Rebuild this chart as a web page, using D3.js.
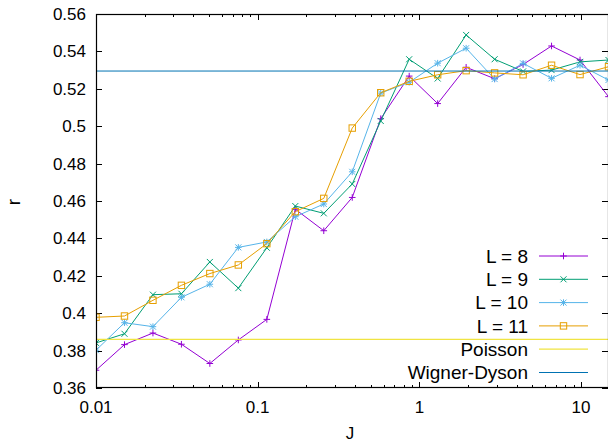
<!DOCTYPE html>
<html><head><meta charset="utf-8">
<script src="https://cdn.jsdelivr.net/npm/d3@7"></script>
<style>body{margin:0;background:#fff}svg{display:block}text{font-family:"Liberation Sans",Arial,sans-serif}</style>
</head><body>
<svg id="c" width="608" height="443"></svg>
<script>
const J = [0.01, 0.015, 0.0225, 0.03375, 0.0506, 0.0759, 0.1139, 0.1709, 0.2563, 0.3844, 0.5767, 0.8650, 1.2975, 1.9462, 2.9193, 4.3789, 6.5684, 9.8526, 14.7789];
const L8  = [0.3695, 0.3832, 0.3894, 0.3834, 0.3731, 0.3857, 0.3967, 0.4556, 0.4441, 0.4619, 0.5040, 0.5268, 0.5121, 0.5315, 0.5254, 0.5330, 0.5429, 0.5354, 0.5158];
const L9  = [0.3841, 0.3890, 0.4099, 0.4104, 0.4274, 0.4134, 0.4350, 0.4573, 0.4534, 0.4691, 0.5028, 0.5358, 0.5255, 0.5488, 0.5358, 0.5293, 0.5300, 0.5344, 0.5354];
const L10 = [0.3802, 0.3949, 0.3928, 0.4085, 0.4155, 0.4352, 0.4381, 0.4516, 0.4584, 0.4756, 0.5177, 0.5235, 0.5337, 0.5417, 0.5252, 0.5336, 0.5256, 0.5326, 0.5247];
const L11 = [0.3978, 0.3985, 0.4069, 0.4149, 0.4212, 0.4258, 0.4372, 0.4543, 0.4614, 0.4990, 0.5179, 0.5240, 0.5275, 0.5297, 0.5285, 0.5275, 0.5326, 0.5276, 0.5318];
const POISSON = 0.3860;
const WD = 0.5295;
const yTicks = [0.36, 0.38, 0.4, 0.42, 0.44, 0.46, 0.48, 0.5, 0.52, 0.54, 0.56];
const yTickLabels = ["0.36","0.38","0.4","0.42","0.44","0.46","0.48","0.5","0.52","0.54","0.56"];
const xTicks = [0.01, 0.1, 1, 10];
const xTickLabels = ["0.01","0.1","1","10"];
const seriesNames = ["L = 8","L = 9","L = 10","L = 11"];

const svg = d3.select("#c");
const X0 = 96, X1 = 608.5, Y0 = 388, Y1 = 14;
const x = d3.scaleLog().domain([0.01, J[J.length-1]]).range([X0, X1]);
const y = d3.scaleLinear().domain([0.36, 0.56]).range([Y0, Y1]);

const colors = ["#9400d3","#009e73","#56b4e9","#e69f00"];
const series = [L8, L9, L10, L11];
const markers = ["plus","cross","star","square"];

svg.append("defs").append("clipPath").attr("id","clip")
  .append("rect").attr("x",X0).attr("y",Y1).attr("width",X1-X0).attr("height",Y0-Y1);

function drawMarker(g, type, cx, cy, col){
  const s = 3.3;
  if(type==="plus"||type==="star"){
    g.append("line").attr("x1",cx-s).attr("x2",cx+s).attr("y1",cy).attr("y2",cy).attr("stroke",col).attr("stroke-width",1);
    g.append("line").attr("x1",cx).attr("x2",cx).attr("y1",cy-s).attr("y2",cy+s).attr("stroke",col).attr("stroke-width",1);
  }
  if(type==="cross"||type==="star"){
    const t = 3;
    g.append("line").attr("x1",cx-t).attr("x2",cx+t).attr("y1",cy-t).attr("y2",cy+t).attr("stroke",col).attr("stroke-width",1);
    g.append("line").attr("x1",cx-t).attr("x2",cx+t).attr("y1",cy+t).attr("y2",cy-t).attr("stroke",col).attr("stroke-width",1);
  }
  if(type==="square"){
    g.append("rect").attr("x",cx-3.2).attr("y",cy-3.2).attr("width",6.4).attr("height",6.4)
      .attr("fill","none").attr("stroke",col).attr("stroke-width",1);
  }
}

// axes / ticks
const axG = svg.append("g").attr("stroke","#000").attr("stroke-width",1);
yTicks.forEach((v,i)=>{
  const yy = Math.round(y(v))+0.5;
  axG.append("line").attr("x1",X0).attr("x2",X0+6).attr("y1",yy).attr("y2",yy);
  axG.append("line").attr("x1",608).attr("x2",602).attr("y1",yy).attr("y2",yy);
  svg.append("text").attr("x",86).attr("y",yy).attr("dy","0.35em").attr("text-anchor","end")
    .attr("font-size",17).attr("fill","#000").text(yTickLabels[i]);
});
// x ticks, major and minor
const decades = [0.01, 0.1, 1, 10];
decades.forEach(d=>{
  for(let m=1;m<10;m++){
    const v = d*m;
    if(v > J[J.length-1]) continue;
    const xx = Math.round(x(v))+0.5;
    const len = m===1 ? 6 : 3;
    axG.append("line").attr("x1",xx).attr("x2",xx).attr("y1",Y0).attr("y2",Y0-len);
    axG.append("line").attr("x1",xx).attr("x2",xx).attr("y1",Y1).attr("y2",Y1+len);
  }
});
xTicks.forEach((v,i)=>{
  svg.append("text").attr("x",x(v)).attr("y",413).attr("text-anchor","middle")
    .attr("font-size",17).attr("fill","#000").text(xTickLabels[i]);
});

// plot
const pg = svg.append("g").attr("clip-path","url(#clip)");
const line = d3.line().x((d,i)=>x(J[i])).y(d=>y(d));
series.forEach((s,k)=>{
  pg.append("path").datum(s).attr("d",line).attr("fill","none").attr("stroke",colors[k]).attr("stroke-width",1);
  const mg = pg.append("g");
  s.forEach((v,i)=>drawMarker(mg, markers[k], x(J[i]), y(v), colors[k]));
});
pg.append("line").attr("x1",X0).attr("x2",X1).attr("y1",y(POISSON)).attr("y2",y(POISSON)).attr("stroke","#f0e442").attr("stroke-width",1.3);
pg.append("line").attr("x1",X0).attr("x2",X1).attr("y1",y(WD)).attr("y2",y(WD)).attr("stroke","#0072b2").attr("stroke-width",1);

// border
svg.append("rect").attr("x",X0+0.5).attr("y",Y1+0.5).attr("width",608-X0).attr("height",Y0-Y1-1)
  .attr("fill","none").attr("stroke","#000").attr("stroke-width",1.2);

// legend
const legNames = seriesNames.concat(["Poisson","Wigner-Dyson"]);
const legCols = colors.concat(["#f0e442","#0072b2"]);
legNames.forEach((n,i)=>{
  const ly = 256 + i*23.3;
  svg.append("text").attr("x",528).attr("y",ly).attr("dy","0.36em").attr("text-anchor","end")
    .attr("font-size",19).attr("fill","#000").text(n);
  svg.append("line").attr("x1",539).attr("x2",588).attr("y1",ly).attr("y2",ly).attr("stroke",legCols[i]).attr("stroke-width",i===4?1.3:1);
  if(i<4) drawMarker(svg.append("g"), markers[i], 563.5, ly, legCols[i]);
});

// axis labels
svg.append("text").attr("transform","translate(20,202) rotate(-90)").attr("text-anchor","middle")
  .attr("font-size",19).attr("fill","#000").text("r");
svg.append("text").attr("x",350).attr("y",439).attr("text-anchor","middle").attr("font-size",17).attr("fill","#000").text("J");
</script>
</body></html>
